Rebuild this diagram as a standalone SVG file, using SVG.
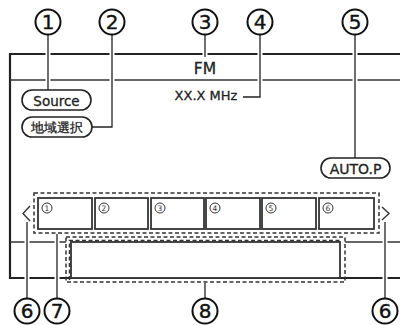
<svg xmlns="http://www.w3.org/2000/svg" width="400" height="325" viewBox="0 0 400 325">
<style>
.frame{fill:none;stroke:#222;stroke-width:2.2}
.thin{fill:none;stroke:#333;stroke-width:1.4}
.pill{fill:#fff;stroke:#222;stroke-width:1.6}
.btn{fill:#fff;stroke:#333;stroke-width:1.8}
.dash{fill:none;stroke:#333;stroke-width:1.5;stroke-dasharray:4 2.5}
.halo{fill:none;stroke:#fff;stroke-width:5}
.lead{fill:none;stroke:#222;stroke-width:1.3}
.num{fill:#fff;stroke:#111;stroke-width:2}
.numt{font-family:"DejaVu Sans",sans-serif;font-size:20px;fill:#111;stroke:#111;stroke-width:0.4;text-anchor:middle}
.sm{fill:#fff;stroke:#333;stroke-width:1}
.smt{font-family:"DejaVu Sans",sans-serif;font-size:7.5px;fill:#333;text-anchor:middle}
.t{font-family:"DejaVu Sans",sans-serif;fill:#222;stroke:#222;stroke-width:0.3;text-anchor:middle}
</style>
<rect width="400" height="325" fill="#fff"/>
<g id="screen">
<path class="frame" d="M402,54 H10 V278 H402"/>
<line class="thin" x1="10" y1="80" x2="402" y2="80"/>
<line class="thin" x1="10" y1="242" x2="66" y2="242"/>
<line class="thin" x1="345" y1="242" x2="402" y2="242"/>
<rect class="btn" x="71" y="242" width="269" height="36"/>
<text class="t" x="205" y="73.5" font-size="15.5">FM</text>
<text class="t" x="206" y="100" font-size="13">XX.X MHz</text>
</g>
<g id="source">
<rect class="pill" x="22" y="90" width="69" height="20" rx="10"/>
<text class="t" x="56.5" y="105.5" font-size="13.5">Source</text>
</g>
<g id="region">
<rect class="pill" x="22" y="117" width="70" height="20" rx="10"/>
<text class="t" x="57" y="132" font-size="12.5" font-family="'Noto Sans CJK JP',sans-serif">地域選択</text>
</g>
<g id="autop">
<rect class="pill" x="321" y="158" width="69" height="20" rx="10"/>
<text class="t" x="355.5" y="173.5" font-size="14">AUTO.P</text>
</g>
<g id="presets">
<rect class="dash" x="34" y="193" width="345" height="40"/>
<rect class="btn" x="38" y="198" width="54" height="31"/>
<rect class="btn" x="95" y="198" width="53" height="31"/>
<rect class="btn" x="151" y="198" width="53" height="31"/>
<rect class="btn" x="206" y="198" width="54" height="31"/>
<rect class="btn" x="262" y="198" width="54" height="31"/>
<rect class="btn" x="319" y="198" width="55" height="31"/>
<circle class="sm" cx="47" cy="208" r="5"/><text class="smt" x="47" y="210.8">1</text>
<circle class="sm" cx="104" cy="208" r="5"/><text class="smt" x="104" y="210.8">2</text>
<circle class="sm" cx="160" cy="208" r="5"/><text class="smt" x="160" y="210.8">3</text>
<circle class="sm" cx="215" cy="208" r="5"/><text class="smt" x="215" y="210.8">4</text>
<circle class="sm" cx="271" cy="208" r="5"/><text class="smt" x="271" y="210.8">5</text>
<circle class="sm" cx="328" cy="208" r="5"/><text class="smt" x="328" y="210.8">6</text>
</g>
<g id="chevrons">
<path class="thin" d="M30,206 L23,213.5 L30,221" stroke-width="1.6"/>
<path class="thin" d="M382,207 L389,213.5 L382,220" stroke-width="1.6"/>
</g>
<g id="infobox">
<rect class="dash" x="66" y="237" width="279" height="45"/>
<path class="dash" d="M69.5,280 V240.5 H342"/>
</g>
<g id="connectors">
<path class="halo" d="M48,35 V89"/><path class="lead" d="M48,35 V90"/>
<path class="halo" d="M112,35 V127 H93"/><path class="lead" d="M112,35 V127 H92"/>
<path class="halo" d="M205,35 V56"/><path class="lead" d="M205,35 V57"/>
<path class="halo" d="M260,35 V97 H244"/><path class="lead" d="M260,35 V97 H243"/>
<path class="halo" d="M355,35 V157"/><path class="lead" d="M355,35 V158"/>
<path class="halo" d="M27,223 V297"/><path class="lead" d="M27,222 V298"/>
<path class="halo" d="M57,235 V297"/><path class="lead" d="M57,234 V298"/>
<path class="lead" d="M205,283 V298"/>
<path class="halo" d="M385,223 V297"/><path class="lead" d="M385,222 V298"/>
</g>
<g id="labels">
<circle class="num" cx="48" cy="22" r="12.5"/><text class="numt" x="48" y="29">1</text>
<circle class="num" cx="112" cy="22" r="12.5"/><text class="numt" x="112" y="29">2</text>
<circle class="num" cx="205" cy="22" r="12.5"/><text class="numt" x="205" y="29">3</text>
<circle class="num" cx="260" cy="22" r="12.5"/><text class="numt" x="260" y="29">4</text>
<circle class="num" cx="355" cy="22" r="12.5"/><text class="numt" x="355" y="29">5</text>
<circle class="num" cx="27" cy="311" r="12.5"/><text class="numt" x="27" y="318">6</text>
<circle class="num" cx="57" cy="311" r="12.5"/><text class="numt" x="57" y="318">7</text>
<circle class="num" cx="205" cy="311" r="12.5"/><text class="numt" x="205" y="318">8</text>
<circle class="num" cx="385" cy="311" r="12.5"/><text class="numt" x="385" y="318">6</text>
</g>
</svg>
